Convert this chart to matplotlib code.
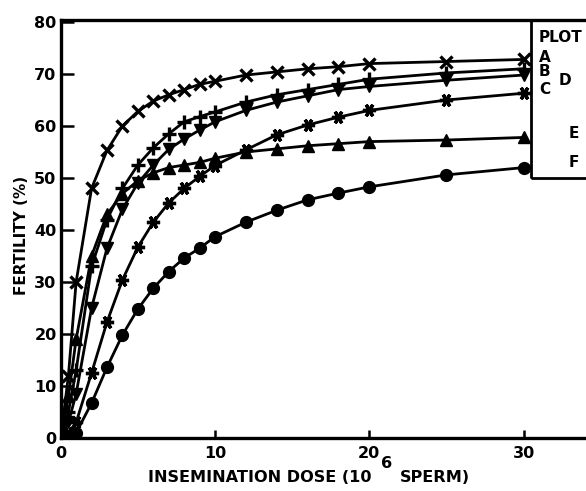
import matplotlib
matplotlib.use('Agg')
import matplotlib.pyplot as plt
from matplotlib.patches import Rectangle

plt.rcParams['font.family'] = ['DejaVu Sans']
plt.rcParams['font.weight'] = 'bold'

# dose (10^6 sperm)
dose = [0, 0.5, 1, 2, 3, 4, 5, 6, 7, 8, 9, 10, 12, 14, 16, 18, 20, 25, 30]

# fertility (%) per plot
plot_a = [0, 12, 30, 48, 55.3, 60, 62.8, 64.8, 66, 67, 68, 68.6, 69.8, 70.4, 71, 71.4, 72, 72.4, 72.8]
plot_b = [0, 5, 13, 33, 42, 48, 52.5, 55.8, 58.5, 60.8, 61.8, 62.7, 64.6, 66, 67, 68, 69, 70.2, 71]
plot_d = [0, 3, 8.5, 25, 36.5, 44, 49, 52.5, 55.5, 57.5, 59.2, 60.8, 63, 64.6, 65.8, 67, 67.6, 68.8, 69.8]
plot_c = [0, 1, 3, 12.5, 22.3, 30.4, 36.7, 41.5, 45.2, 48, 50.3, 52.4, 55.4, 58.3, 60.2, 61.7, 63, 65, 66.3]
plot_e = [0, 8, 19, 35, 43, 47, 49.5, 51, 52, 52.5, 53, 53.8, 55, 55.6, 56.2, 56.6, 57, 57.3, 57.8]
plot_f = [0, 0.3, 1, 6.7, 13.6, 19.8, 24.8, 28.8, 32, 34.6, 36.5, 38.7, 41.5, 43.8, 45.8, 47.1, 48.3, 50.6, 52]

fig = plt.figure(figsize=(5.86, 4.91), dpi=100)
W, H = 586, 491
x0, y0 = 60.7, 438
px_x, px_y = 15.43, 5.2
x_right = 620
ax = fig.add_axes([x0 / W, (H - y0) / H, (x_right - x0) / W, (80.4 * px_y) / H])
ax.set_xlim(0, (x_right - x0) / px_x)
ax.set_ylim(0, 80.4)

lw = 2.0
ms = 8.5
ax.plot(dose, plot_a, color='black', lw=lw, marker='x', ms=ms, mew=2.4)
ax.plot(dose, plot_b, color='black', lw=lw, marker='+', ms=ms + 2, mew=2.4)
ax.plot(dose, plot_d, color='black', lw=lw, marker='v', ms=ms)
ax.plot(dose, plot_c, color='black', lw=lw, marker=(6, 2, 90), ms=ms + 1, mew=2.4)
ax.plot(dose, plot_e, color='black', lw=lw, marker='^', ms=ms)
ax.plot(dose, plot_f, color='black', lw=lw, marker='o', ms=ms)

# 범례 상자
ax.add_patch(Rectangle((30.5, 50), 20, 40, fill=False, lw=2, ec='black', zorder=5, clip_on=True))

tkw = dict(fontsize=11, fontweight='bold', va='center', ha='left', zorder=6)
ax.text(31.0, 77.1, 'PLOT', **tkw)
ax.text(31.0, 73.2, 'A', **tkw)
ax.text(31.0, 70.4, 'B', **tkw)
ax.text(31.0, 67.1, 'C', **tkw)
ax.text(32.3, 68.8, 'D', **tkw)
ax.text(32.9, 58.6, 'E', **tkw)
ax.text(32.9, 52.9, 'F', **tkw)

for s in ax.spines.values():
    s.set_linewidth(2.4)

ax.set_xticks([0, 10, 20, 30])
ax.set_yticks(range(0, 81, 10))
ax.tick_params(axis='y', direction='in', length=9, width=1.8, labelsize=11.5, pad=3)
ax.tick_params(axis='x', direction='in', length=6, width=1.8, labelsize=11.5, pad=6)
for lab in ax.get_xticklabels() + ax.get_yticklabels():
    lab.set_fontweight('bold')

fig.text(22 / W, 1 - 235 / H, 'FERTILITY (%)', rotation=90, ha='center', va='center',
         fontsize=11, fontweight='bold')
fig.text(148 / W, 1 - 477 / H, 'INSEMINATION DOSE (10', ha='left', va='center',
         fontsize=11.6, fontweight='bold')
fig.text(381 / W, 1 - 463 / H, '6', ha='left', va='center', fontsize=11.6, fontweight='bold')
fig.text(400 / W, 1 - 477 / H, 'SPERM)', ha='left', va='center', fontsize=11.6, fontweight='bold')

fig.savefig('out.png', dpi=100, facecolor='white')
